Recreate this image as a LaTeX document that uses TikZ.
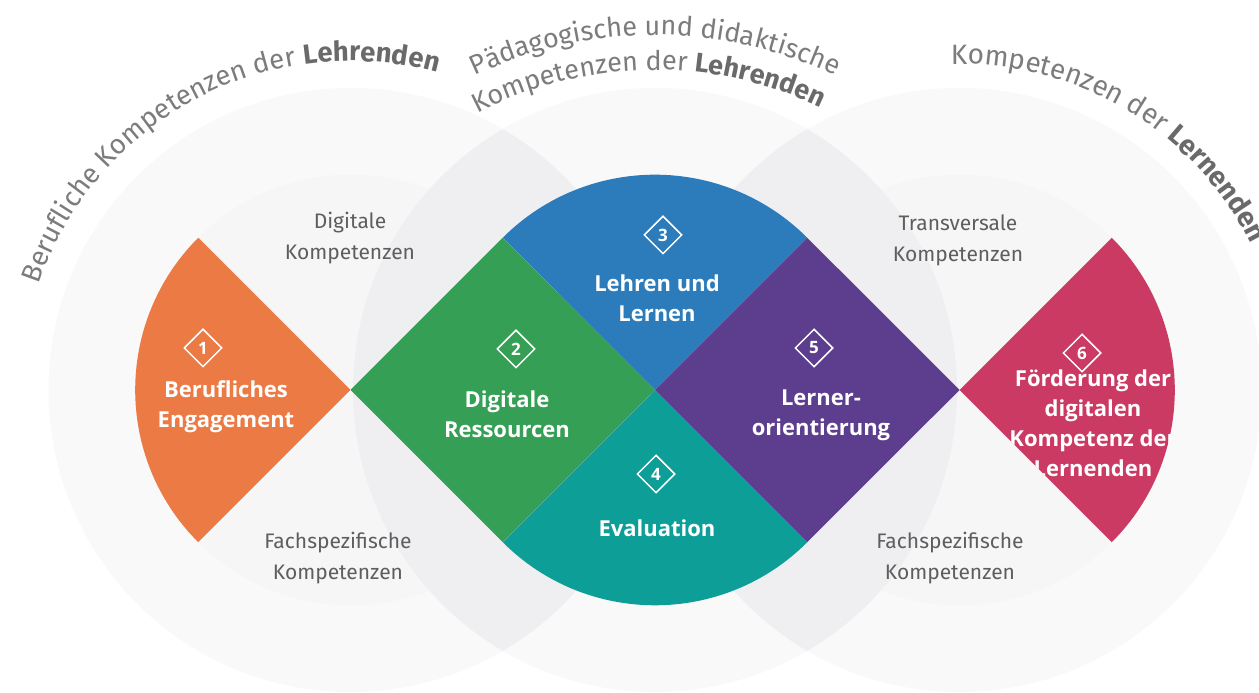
\documentclass[tikz,border=0pt]{standalone}
\usepackage{fontspec}
\setmainfont{Fira Sans}
\newfontfamily\labelfont{Open Sans}
\usetikzlibrary{shapes.geometric,decorations.text,calc}
\definecolor{corange}{HTML}{EB7A45}
\definecolor{cgreen}{HTML}{359F55}
\definecolor{cblue}{HTML}{2C7BBA}
\definecolor{cteal}{HTML}{0E9E98}
\definecolor{cpurple}{HTML}{5D3D8D}
\definecolor{cred}{HTML}{CB3A62}
\definecolor{outerbg}{HTML}{F9F9FA}
\definecolor{innerbg}{HTML}{F6F6F7}
\definecolor{lensbg}{HTML}{EFEFF1}
\definecolor{labelgray}{HTML}{5E5E5E}
\definecolor{arcgray}{HTML}{7C7C7C}
\definecolor{arcbold}{HTML}{6A6A6A}
\def\rin{215.3}
\def\rout{302}
\begin{document}
\begin{tikzpicture}[x=1pt,y=1pt,
  boldlabel/.style={text=white, font=\labelfont\bfseries\fontsize{22}{30}\selectfont, align=center, inner sep=0pt},
  graylabel/.style={text=labelgray, font=\fontsize{21}{31}\selectfont, align=center, inner sep=0pt},
  num/.style={diamond, draw=white, line width=1.5pt, minimum width=38pt, minimum height=38pt, inner sep=0pt, text=white, font=\labelfont\bfseries\fontsize{17}{17}\selectfont},
  arctext/.style={decorate, decoration={text along path, text align=center, text={#1}}},
]
\useasboundingbox (0,0) rectangle (1259,693);
\fill[white] (0,0) rectangle (1259,693);
\coordinate (L) at (350.5,303);
\coordinate (M) at (655,303);
\coordinate (R) at (959.5,303);
\coordinate (MT) at (655,238);
% background discs
\fill[outerbg] (L) circle[radius=\rout];
\fill[outerbg] (M) circle[radius=\rout];
\fill[outerbg] (R) circle[radius=\rout];
\fill[innerbg] (L) circle[radius=\rin];
\fill[innerbg] (R) circle[radius=\rin];
\begin{scope}
  \clip (L) circle[radius=\rout];
  \fill[lensbg] (M) circle[radius=\rout];
\end{scope}
\begin{scope}
  \clip (R) circle[radius=\rout];
  \fill[lensbg] (M) circle[radius=\rout];
\end{scope}
% coloured sectors
\fill[corange] (L) -- ($(L)+(135:\rin)$) arc[start angle=135,end angle=225,radius=\rin] -- cycle;
\fill[cgreen] (L) -- ($(L)+(45:\rin)$) -- (M) -- ($(L)+(-45:\rin)$) -- cycle;
\fill[cblue] (M) -- ($(M)+(45:\rin)$) arc[start angle=45,end angle=135,radius=\rin] -- cycle;
\fill[cteal] (M) -- ($(M)+(225:\rin)$) arc[start angle=225,end angle=315,radius=\rin] -- cycle;
\fill[cpurple] (M) -- ($(M)+(45:\rin)$) -- (R) -- ($(M)+(-45:\rin)$) -- cycle;
\fill[cred] (R) -- ($(R)+(-45:\rin)$) arc[start angle=-45,end angle=45,radius=\rin] -- cycle;
% numbers
\node[num] (n1) at (203,345) {1};
\node[num] (n2) at (516,344) {2};
\node[num] (n3) at (663,458) {3};
\node[num] (n4) at (656,219) {4};
\node[num] (n5) at (814,345) {5};
\node[num] (n6) at (1082,340) {6};
% bold labels
\node[boldlabel] (t1) at (226,286) {Berufliches\\Engagement};
\node[boldlabel] (t2) at (507,279) {Digitale\\Ressourcen};
\node[boldlabel] (t3) at (657,395) {Lehren und\\Lernen};
\node[boldlabel] (t4) at (657,165) {Evaluation};
\node[boldlabel] (t5) at (821,278) {Lerner-\\orientierung};
\begin{scope}
  \clip (R) -- ($(R)+(-45:\rin)$) arc[start angle=-45,end angle=45,radius=\rin] -- cycle;
  \node[boldlabel] (t6) at (1093,270) {Förderung der\\digitalen\\Kompetenz der\\Lernenden};
\end{scope}
% gray labels
\node[graylabel] (g1) at (350,455) {Digitale\\Kompetenzen};
\node[graylabel] (g2) at (338,135) {Fachspezifische\\Kompetenzen};
\node[graylabel] (g3) at (958,453) {Transversale\\Kompetenzen};
\node[graylabel] (g4) at (950,135) {Fachspezifische\\Kompetenzen};
% arc titles
\path[arctext={|\fontsize{27.5}{27.5}\selectfont\color{arcgray}|Berufliche Kompetenzen der |\bfseries\fontsize{27.5}{27.5}\selectfont\color{arcbold}|Lehrenden}]
  ($(L)+(178:329)$) arc[start angle=178,end angle=58,radius=329];
\path[arctext={|\fontsize{27}{27}\selectfont\color{arcgray}|Pädagogische und didaktische}]
  ($(MT)+(130:420)$) arc[start angle=130,end angle=50,radius=420];
\path[arctext={|\fontsize{27}{27}\selectfont\color{arcgray}|Kompetenzen der |\bfseries\fontsize{27}{27}\selectfont\color{arcbold}|Lehrenden}]
  ($(MT)+(131:385)$) arc[start angle=131,end angle=51,radius=385];
\path[decorate, decoration={text along path, text align=left, text={|\fontsize{28}{28}\selectfont\color{arcgray}|Kompetenzen der |\bfseries\fontsize{28}{28}\selectfont\color{arcbold}|Lernenden}}]
  ($(R)+(91.5:326)$) arc[start angle=91.5,end angle=-30,radius=326];
\end{tikzpicture}
\end{document}
